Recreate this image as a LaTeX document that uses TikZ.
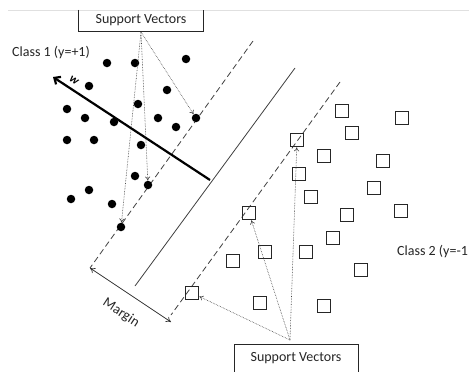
\documentclass[tikz,border=0pt]{standalone}
\usepackage{fontspec}
\setmainfont{Carlito}
\usetikzlibrary{arrows.meta}
\begin{document}
\begin{tikzpicture}[x=1pt,y=-1pt,
  dot/.style={circle,fill=black,inner sep=0pt,minimum size=8.5pt},
  sq/.style={draw=black!85,line width=1.6pt,inner sep=0pt,minimum size=13pt},
  svarrow/.style={densely dotted,line width=0.6pt,black!75,-{To[length=4pt,width=5pt]}},
  margline/.style={dashed,dash pattern=on 6pt off 3.5pt,line width=0.8pt,black!75},
  lbl/.style={text=black!85,font=\fontsize{14}{16}\selectfont,inner sep=0pt}]
\useasboundingbox (0,0) rectangle (469,372);
\fill[white] (0,0) rectangle (469,372);
% faint top rule
\coordinate (r1) at (8,10);
\coordinate (r2) at (469,10);
\draw[black!12,line width=0.6pt] (r1) -- (r2);
% top support vectors box
\node[lbl,minimum width=124pt,minimum height=22pt] (topbox) at (141,20) {Support Vectors};
\draw[black!85,line width=0.9pt] ([yshift=-1pt]topbox.north west) -- (topbox.south west) -- (topbox.south east) -- ([yshift=-1pt]topbox.north east);
% bottom support vectors box
\node[lbl,draw=black!85,line width=0.9pt,minimum width=124pt,minimum height=28pt] (botbox) at (296,358) {Support Vectors};
% class labels
\node[lbl,anchor=west] (c1) at (12,53) {Class 1 (y=+1)};
\node[lbl,anchor=west] (c2) at (397,252) {Class 2 (y=-1};
% margin lines
\coordinate (ua) at (253,41);
\coordinate (ub) at (90,268);
\coordinate (ma) at (295,68);
\coordinate (mb) at (135,286);
\coordinate (la) at (340,82);
\coordinate (lb) at (171,315);
\coordinate (mg) at (171,322);
\draw[margline] (ua) -- (ub);
\draw[margline] (la) -- (lb);
\draw[black!75,line width=0.8pt] (ma) -- (mb);
\draw[black!80,line width=0.7pt,{To[length=5pt,width=6pt]}-{To[length=5pt,width=6pt]}] (ub) -- (mg);
\node[lbl,rotate=-33] (margin) at (121,313) {Margin};
% w arrow
\coordinate (w0) at (210,180);
\coordinate (w1) at (53,77);
\draw[line width=2.2pt,-{Straight Barb[length=5pt,width=9pt]}] (w0) -- (w1);
\node[font=\bfseries\itshape\fontsize{12}{13}\selectfont,rotate=-33,inner sep=0pt] (wl) at (74,80) {w};
% class 1 dots
\foreach \p [count=\i] in {(107,63),(135,63),(186,59),(89,86),(167,90),(67,109),(138,104),(85,118),(114,122),(158,118),(176,127),(67,140),(94,140),(141,145),(135,176),(89,190),(71,199),(112,204)}
  \node[dot] (d\i) at \p {};
\node[dot] (sv1) at (196,118) {};
\node[dot] (sv2) at (148,185) {};
\node[dot] (sv3) at (121,227) {};
% class 2 squares
\foreach \p [count=\i] in {(342,111),(402,118),(352,133),(324,156),(383,161),(299,174),(374,188),(311,197),(401,211),(347,215),(333,238),(265,252),(306,252),(233,261),(361,270),(260,303),(324,306)}
  \node[sq] (q\i) at \p {};
\node[sq] (sq1) at (297,140) {};
\node[sq] (sq2) at (249,213) {};
\node[sq] (sq3) at (192,293) {};
% support vector arrows (top)
\coordinate (tp) at (141,32);
\draw[svarrow] (tp) -- (sv1);
\draw[svarrow] (tp) -- (sv2);
\draw[svarrow] (tp) -- (sv3);
% support vector arrows (bottom)
\coordinate (bp) at (290,340);
\draw[svarrow] (bp) -- (sq1);
\draw[svarrow] (bp) -- (sq2);
\draw[svarrow] (bp) -- (sq3);
\end{tikzpicture}
\end{document}
